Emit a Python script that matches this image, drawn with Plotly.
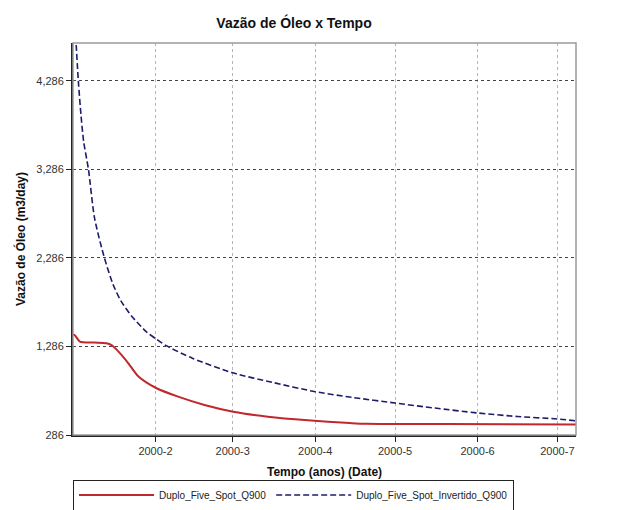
import pandas as pd
import plotly.graph_objects as go

start = pd.Timestamp("2000-01-01")

# Series 1: Duplo_Five_Spot_Q900 (days since 2000-01-01, m3/day)
red_days = [0, 0.75, 2.6, 8, 12.6, 14.5, 16.4, 18.2, 20.8, 24.5, 31.4, 39.5, 49.4,
            60.2, 73.2, 88.2, 104, 110, 140, 189]
red_vals = [1420, 1410, 1340, 1330, 1322, 1300, 1250, 1190, 1096, 950, 814, 719, 625,
            549, 493, 452, 421, 412, 410, 405]

# Series 2: Duplo_Five_Spot_Invertido_Q900
blue_days = [0, 1, 2, 3, 4, 5.8, 8.1, 11.8, 15, 18, 22, 27.6, 31.4, 35, 45, 60,
             75, 91, 105, 121, 136, 152, 167, 182, 189]
blue_vals = [5400, 4800, 4286, 3900, 3600, 3286, 2735, 2286, 1990, 1800, 1630, 1450,
             1367, 1295, 1151, 988, 880, 775, 710, 647, 590, 535, 495, 467, 445]

series_names = ["Duplo_Five_Spot_Q900", "Duplo_Five_Spot_Invertido_Q900"]

y_ticks = [286, 1286, 2286, 3286, 4286]
x_tick_dates = ["2000-02-01", "2000-03-01", "2000-04-01", "2000-05-01", "2000-06-01", "2000-07-01"]
x_tick_labels = ["2000-2", "2000-3", "2000-4", "2000-5", "2000-6", "2000-7"]

red_x = [start + pd.Timedelta(days=d) for d in red_days]
blue_x = [start + pd.Timedelta(days=d) for d in blue_days]

fig = go.Figure()
fig.add_trace(go.Scatter(x=red_x, y=red_vals, mode="lines", name=series_names[0],
                         line=dict(color="#c0282d", width=2, shape="spline", smoothing=0.7)))
fig.add_trace(go.Scatter(x=blue_x, y=blue_vals, mode="lines", name=series_names[1],
                         line=dict(color="#1c1c6a", width=1.6, dash="6px,3px", shape="spline", smoothing=0.7)))

font = "Liberation Sans, Arial, sans-serif"

# gray frame (top/right)
fig.add_shape(type="rect", xref="paper", yref="paper", x0=0, y0=0, x1=1, y1=1,
              line=dict(color="#9a9a9a", width=1.5), layer="above")

fig.update_layout(
    width=642, height=510,
    margin=dict(l=73, r=66, t=43, b=75, autoexpand=False),
    paper_bgcolor="white", plot_bgcolor="white",
    font=dict(family=font, size=11, color="#222"),
    title=dict(text="<b>Vazão de Óleo x Tempo</b>", x=0.458, xanchor="center",
               y=0.955, yanchor="middle", font=dict(size=14, color="#111")),
    showlegend=True,
    legend=dict(orientation="h", x=73 / 642, xanchor="left", xref="container",
                y=1 - 495 / 510, yanchor="middle", yref="container",
                bordercolor="#222", borderwidth=1, font=dict(size=10, color="#222"),
                tracegroupgap=0, itemwidth=75),
    xaxis=dict(
        type="date",
        range=[start, start + pd.Timedelta(days=189)],
        tickvals=x_tick_dates, ticktext=x_tick_labels,
        ticks="outside", ticklen=5, tickcolor="#222",
        showline=True, linecolor="#222", linewidth=2,
        showgrid=True, gridcolor="#b5b5b5", griddash="dot", gridwidth=1,
        zeroline=False,
        tickfont=dict(size=11, color="#333"),
        title=dict(text="<b>Tempo (anos) (Date)</b>", font=dict(size=12, color="#111"), standoff=12),
    ),
    yaxis=dict(
        range=[286, 4712],
        tickvals=y_ticks, tickformat=",",
        ticks="outside", ticklen=5, tickcolor="#222",
        showline=True, linecolor="#222", linewidth=2,
        showgrid=True, gridcolor="#444", griddash="dot", gridwidth=1,
        zeroline=False,
        tickfont=dict(size=11, color="#333"),
        title=dict(text="<b>Vazão de Óleo (m3/day)</b>", font=dict(size=12, color="#111"), standoff=8),
    ),
)

fig.write_html("out.html")
